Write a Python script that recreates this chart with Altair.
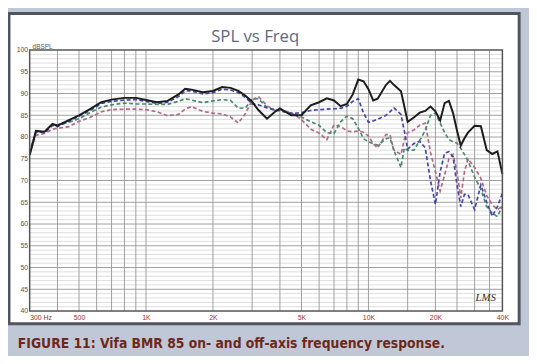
import altair as alt
import pandas as pd

# ---- data ----
freq = [300, 320, 350, 380, 400, 450, 500, 560, 630, 700, 800, 900, 1000, 1120, 1250,
        1400, 1500, 1600, 1800, 2000, 2200, 2400, 2600, 2800, 3000, 3200, 3500, 3800, 4000, 4500,
        5000, 5500, 6000, 6500, 7000, 7500, 8000, 8500, 9000, 9500, 10000, 10500, 11000, 12000, 12500,
        13000, 14000, 14500, 15000, 16000, 17000, 18000, 19000, 20000, 21000, 22000, 23000, 24000, 25000, 26000,
        27000, 28000, 30000, 32000, 34000, 36000, 38000, 40000]

on_axis = [75.8, 81.4, 81.2, 83.0, 82.6, 83.9, 85.0, 86.4, 88.0, 88.6, 89.0, 89.0, 88.5, 88.0, 88.3,
           89.8, 91.1, 90.9, 90.3, 90.6, 91.5, 91.3, 90.6, 89.5, 88.1, 86.2, 84.2, 85.8, 86.6, 85.0,
           85.0, 87.3, 88.0, 88.9, 88.4, 87.1, 87.6, 89.8, 93.2, 92.8, 91.0, 88.4, 88.8, 92.0, 92.9,
           92.0, 90.5, 87.0, 83.5, 84.5, 85.6, 86.0, 87.0, 85.9, 83.8, 87.8, 88.3, 85.5, 81.5, 78.0,
           79.7, 81.0, 82.6, 82.5, 77.0, 76.1, 76.7, 71.5]

off_blue = [76.5, 81.2, 81.0, 82.8, 82.4, 83.6, 84.8, 86.1, 87.7, 88.2, 88.5, 88.6, 88.2, 87.7, 88.0,
            89.3, 90.6, 90.6, 89.9, 90.2, 91.0, 90.8, 90.2, 89.1, 87.6, 87.4, 86.7, 86.3, 86.1, 85.4,
            85.6, 86.1, 86.3, 86.4, 86.5, 86.6, 87.1, 88.2, 88.8, 85.5, 83.4, 83.7, 84.1, 85.0, 85.8,
            86.7, 85.2, 81.4, 77.2, 78.5, 79.0, 77.5, 70.0, 64.5, 72.0, 76.3, 76.6, 75.5, 69.0, 64.0,
            66.8, 66.8, 63.3, 69.0, 65.0, 61.8, 64.0, 67.1]

off_green = [76.3, 81.1, 81.1, 82.6, 82.8, 83.4, 84.2, 85.6, 86.9, 87.4, 87.8, 87.6, 87.6, 87.5, 87.5,
             88.2, 88.8, 88.5, 87.9, 88.3, 88.6, 88.4, 86.6, 86.7, 88.7, 88.8, 86.8, 86.1, 86.0, 85.5,
             84.6, 83.5, 82.7, 81.0, 80.8, 83.5, 84.8, 84.2, 82.0, 79.6, 78.9, 78.5, 78.1, 79.6, 79.8,
             77.0, 73.0, 77.5, 76.9, 77.0, 79.2, 81.5, 85.0, 85.5, 83.2, 81.0, 79.4, 78.9, 78.6, 77.4,
             76.0, 74.5, 70.8, 68.0, 64.0, 62.5, 61.7, 64.1]

off_pink = [76.0, 80.4, 80.8, 81.8, 82.0, 82.4, 83.6, 84.5, 85.8, 86.3, 86.4, 86.4, 86.3, 85.8, 84.9,
            85.2, 86.4, 87.0, 85.9, 85.5, 85.3, 84.6, 83.2, 85.4, 88.5, 89.3, 87.2, 86.1, 86.3, 85.6,
            84.0, 81.8, 80.9, 79.4, 82.8, 82.4, 81.4, 81.2, 81.4, 81.1, 80.2, 78.5, 77.5, 80.6, 80.5,
            77.0, 76.0, 79.5, 81.0, 81.6, 82.7, 83.2, 76.5, 72.0, 67.6, 71.3, 75.0, 76.0, 72.0, 66.0,
            72.0, 75.0, 73.0, 70.5, 66.5, 64.5, 63.3, 64.1]

grid_freq = [400, 500, 600, 700, 800, 900, 1000, 2000, 3000, 4000, 5000, 6000, 7000, 8000, 9000,
             10000, 15000, 20000, 25000, 30000, 35000]
db_minor = [v for v in range(41, 100) if v % 5 != 0]
db_major = [45, 50, 55, 60, 65, 70, 75, 80, 85, 90, 95]
y_ticks = [40, 45, 50, 55, 60, 65, 70, 75, 80, 85, 90, 95, 100]
x_tick_freq = [300, 500, 1000, 2000, 5000, 10000, 20000, 40000]
x_tick_text = ["300 Hz", "500", "1K", "2K", "5K", "10K", "20K", "40K"]

title_text = "SPL vs Freq"
unit_text = "dBSPL"
logo_text = "LMS"
caption_text = "FIGURE 11: Vifa BMR 85 on- and off-axis frequency response."

# ---- chart ----
W, H = 480, 265
xs = alt.Scale(type="log", domain=[300, 40000], nice=False)
ys = alt.Scale(domain=[40, 100], nice=False)

label_expr = ""
for f, t in zip(x_tick_freq, x_tick_text):
    label_expr += f"datum.value == {f} ? '{t}' : "
label_expr += "''"

xaxis = alt.Axis(values=x_tick_freq, labelExpr=label_expr, labelFontSize=7, labelColor="#9b3030",
                 labelFont="Liberation Sans", ticks=False, domain=False, grid=False, labelPadding=3,
                 title=None, labelFlush=False, zindex=1,
                 labelAlign={"condition": {"test": "datum.value <= 300", "value": "left"}, "value": "center"})
yaxis = alt.Axis(values=y_ticks, labelFontSize=7, labelColor="#555555", labelFont="Liberation Sans",
                 ticks=False, domain=False, grid=False, labelPadding=2, title=None, zindex=1)

X = alt.X("freq:Q", scale=xs, axis=xaxis)
Y = alt.Y("spl:Q", scale=ys, axis=yaxis)

one = pd.DataFrame({"k": [0]})

panel = alt.Chart(one).mark_rect(fill="white", stroke="#4f5660", strokeWidth=3).encode(
    x=alt.value(-21), x2=alt.value(497), y=alt.value(-37), y2=alt.value(278))

hminor = alt.Chart(pd.DataFrame({"spl": db_minor})).mark_rule(color="#cfcfcf", strokeWidth=0.7).encode(y=Y)
hmajor = alt.Chart(pd.DataFrame({"spl": db_major})).mark_rule(color="#959595", strokeWidth=0.9).encode(y=Y)
vgrid = alt.Chart(pd.DataFrame({"freq": grid_freq})).mark_rule(color="#959595", strokeWidth=0.9).encode(x=X)


def series(vals, color, dash=None, width=1.7):
    df = pd.DataFrame({"freq": freq, "spl": vals})
    kw = dict(color=color, strokeWidth=width)
    if dash:
        kw["strokeDash"] = dash
    return alt.Chart(df).mark_line(**kw).encode(x=X, y=Y)


pink = series(off_pink, "#b06a88", [4, 2.5])
green = series(off_green, "#4a8a6a", [4, 2.5])
blue = series(off_blue, "#4347a5", [4, 2.5])
black = series(on_axis, "#1c1c1c", None, 2.0)

frame = alt.Chart(one).mark_rect(fillOpacity=0, stroke="#555555", strokeWidth=1.5).encode(
    x=alt.value(0), x2=alt.value(W), y=alt.value(0), y2=alt.value(H))

title = alt.Chart(pd.DataFrame({"t": [title_text]})).mark_text(
    font="Open Sans", fontSize=17, color="#5b6a83", align="center", baseline="alphabetic").encode(
    text="t:N", x=alt.value(229), y=alt.value(-8))
unit = alt.Chart(pd.DataFrame({"t": [unit_text]})).mark_text(
    font="Liberation Sans", fontSize=6.5, color="#555555", align="left", baseline="middle").encode(
    text="t:N", x=alt.value(3), y=alt.value(-3))
logo = alt.Chart(pd.DataFrame({"t": [logo_text]})).mark_text(
    font="Liberation Serif", fontSize=11, fontStyle="italic", color="#333333", align="center",
    baseline="middle").encode(text="t:N", x=alt.value(463), y=alt.value(252))
caption = alt.Chart(pd.DataFrame({"t": [caption_text]})).mark_text(
    font="DejaVu Sans Condensed, Liberation Sans", fontSize=14, fontWeight="bold",
    color="#6e2819", align="left", baseline="alphabetic").encode(
    text="t:N", x=alt.value(-12), y=alt.value(303))

chart = alt.layer(panel, hminor, hmajor, vgrid, pink, green, blue, black, frame,
                  title, unit, logo, caption).properties(
    width=W, height=H,
    autosize=alt.AutoSizeParams(type="none"),
    padding={"left": 22, "top": 40, "right": 27, "bottom": 43},
    background="#c0c8d8",
).configure_view(stroke=None)

chart.save("out.html", embed_options={"renderer": "svg", "actions": False})
